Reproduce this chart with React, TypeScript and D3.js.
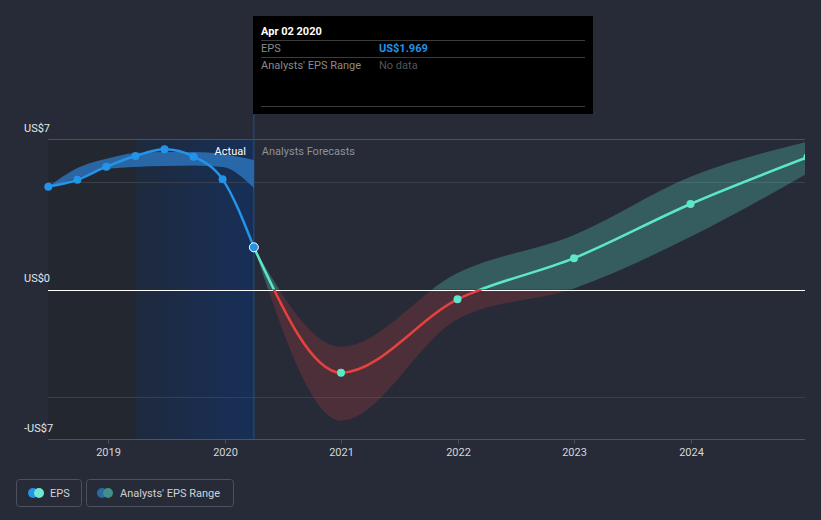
import React from "react";
import * as d3 from "d3";

const actualDates = ["2018-06-28", "2018-09-27", "2018-12-27", "2019-03-28", "2019-06-27", "2019-09-26", "2019-12-26", "2020-04-02"];
const actualEps = [4.8, 5.12, 5.73, 6.23, 6.54, 6.2, 5.14, 1.969];
const pastRangeLow = [4.8, 5.2, 5.62, 5.72, 5.76, 5.79, 5.72, 4.74];
const pastRangeHigh = [4.8, 5.67, 6.1, 6.37, 6.42, 6.42, 6.32, 6.04];

const forecastDates = ["2020-04-02", "2020-12-31", "2021-12-31", "2022-12-31", "2023-12-31", "2024-12-31"];
const forecastEps = [1.969, -3.88, -0.46, 1.46, 3.99, 6.17];
const forecastLow = [1.969, -6.12, -1.39, 0.05, 2.46, 5.42];
const forecastHigh = [1.969, -2.67, 0.77, 2.54, 5.26, 6.9];

const yearTicks = ["2019", "2020", "2021", "2022", "2023", "2024"];
const yTickLabels = [
  { v: 7, t: "US$7" },
  { v: 0, t: "US$0" },
  { v: -7, t: "-US$7" },
];
const gridValues = [5, -5];

const W = 821;
const H = 520;
const L = 48;
const R = 805;
const TOP = 139.5;
const BOT = 439.5;

const parse = d3.timeParse("%Y-%m-%d");

export default function App() {
  const x = d3
    .scaleTime()
    .domain([parse("2019-01-01")!, parse("2020-01-01")!])
    .range([108, 224.5]);
  const y = d3.scaleLinear().domain([-7, 7]).range([BOT, TOP]);

  const actual = actualDates.map((d, i) => ({ d: parse(d)!, v: actualEps[i], lo: pastRangeLow[i], hi: pastRangeHigh[i] }));
  const fc = forecastDates.map((d, i) => ({ d: parse(d)!, v: forecastEps[i], lo: forecastLow[i], hi: forecastHigh[i] }));

  const line = d3
    .line<any>()
    .x((p) => x(p.d))
    .y((p) => y(p.v))
    .curve(d3.curveMonotoneX);
  const area = d3
    .area<any>()
    .x((p) => x(p.d))
    .y0((p) => y(p.lo))
    .y1((p) => y(p.hi))
    .curve(d3.curveMonotoneX);

  const nowX = x(parse("2020-04-02")!);
  const yearAgoX = x(parse("2019-03-29")!);
  const y0 = y(0);

  const font = "Roboto, 'Noto Sans', sans-serif";

  return (
    <svg width={W} height={H} style={{ position: "absolute", left: 0, top: 0, fontFamily: font }}>
      <defs>
        <linearGradient id="pastGrad" x1="0" x2="1" y1="0" y2="0">
          <stop offset="0%" stopColor="#1e2a3d" />
          <stop offset="100%" stopColor="#172f58" />
        </linearGradient>
        <clipPath id="plotClip">
          <rect x={L} y={0} width={R - L} height={H} />
        </clipPath>
        <clipPath id="aboveZero">
          <rect x={L} y={0} width={R - L} height={y0} />
        </clipPath>
        <clipPath id="belowZero">
          <rect x={L} y={y0} width={R - L} height={H - y0} />
        </clipPath>
      </defs>
      <rect x={0} y={0} width={W} height={H} fill="#262b37" />

      {/* past shading */}
      <rect x={L} y={TOP} width={yearAgoX - L} height={BOT - TOP} fill="#23272f" />
      <rect x={yearAgoX} y={TOP} width={nowX - yearAgoX} height={BOT - TOP} fill="url(#pastGrad)" />

      {/* grid */}
      <line x1={L} x2={R} y1={TOP} y2={TOP} stroke="#4a505c" strokeWidth={1} />
      {gridValues.map((v) => (
        <line key={v} x1={L} x2={R} y1={Math.round(y(v)) + 0.5} y2={Math.round(y(v)) + 0.5} stroke="#3a404b" strokeWidth={1} />
      ))}
      <line x1={L} x2={R} y1={BOT} y2={BOT} stroke="#4d5360" strokeWidth={1} />
      {yearTicks.map((t) => {
        const xx = Math.round(x(parse(t + "-01-01")!)) + 0.5;
        return (
          <g key={t}>
            <line x1={xx} x2={xx} y1={BOT} y2={BOT + 4} stroke="#4d5360" />
            <text x={xx} y={456} textAnchor="middle" fontSize={11} fill="#d4d6da">
              {t}
            </text>
          </g>
        );
      })}
      {yTickLabels.map((t) => (
        <text key={t.t} x={24} y={y(t.v) - 8} fontSize={11} fill="#e4e6ea">
          {t.t}
        </text>
      ))}

      {/* now line */}
      <line x1={nowX} x2={nowX} y1={TOP - 25} y2={BOT} stroke="#23528e" strokeWidth={1} />

      {/* past range band */}
      <path d={area(actual) || ""} fill="#2b72b8" opacity={0.85} clipPath="url(#plotClip)" />

      {/* forecast band */}
      <g clipPath="url(#plotClip)">
        <path d={area(fc) || ""} fill="#5ee0c8" opacity={0.28} clipPath="url(#aboveZero)" />
        <path d={area(fc) || ""} fill="#e5413f" opacity={0.2} clipPath="url(#belowZero)" />
      </g>

      {/* zero line */}
      <line x1={L} x2={R} y1={Math.round(y0) + 0.5} y2={Math.round(y0) + 0.5} stroke="#ffffff" strokeWidth={1} />

      {/* forecast line */}
      <g clipPath="url(#plotClip)">
        <path d={line(fc) || ""} fill="none" stroke="#5ee6cb" strokeWidth={2.5} clipPath="url(#aboveZero)" />
        <path d={line(fc) || ""} fill="none" stroke="#e5423f" strokeWidth={2.5} clipPath="url(#belowZero)" />
        {fc.slice(1).map((p, i) => (
          <circle key={i} cx={x(p.d)} cy={y(p.v)} r={4} fill="#5ee6cb" />
        ))}
      </g>

      {/* actual line */}
      <path d={line(actual) || ""} fill="none" stroke="#2394e8" strokeWidth={2.5} />
      {actual.map((p, i) =>
        i === actual.length - 1 ? (
          <circle key={i} cx={x(p.d)} cy={y(p.v)} r={4.5} fill="#2394e8" stroke="#ffffff" strokeWidth={1} />
        ) : (
          <circle key={i} cx={x(p.d)} cy={y(p.v)} r={4} fill="#2394e8" />
        )
      )}

      {/* labels */}
      <text x={nowX - 8} y={155} textAnchor="end" fontSize={11} fill="#ffffff">
        Actual
      </text>
      <text x={nowX + 8} y={155} fontSize={11} fill="#8c919b">
        Analysts Forecasts
      </text>

      {/* tooltip */}
      <rect x={253} y={16} width={340} height={98} fill="#000000" />
      <text x={261} y={35} fontSize={11} fontWeight="bold" fill="#ffffff">
        Apr 02 2020
      </text>
      <line x1={261} x2={585} y1={40.5} y2={40.5} stroke="#3c3c3c" />
      <text x={261} y={52} fontSize={11} fill="#8a8a8a">
        EPS
      </text>
      <text x={379} y={52} fontSize={11} fontWeight="bold" fill="#2394e8">
        US$1.969
      </text>
      <line x1={261} x2={585} y1={57.5} y2={57.5} stroke="#3c3c3c" />
      <text x={261} y={69} fontSize={11} fill="#8a8a8a">
        Analysts' EPS Range
      </text>
      <text x={379} y={69} fontSize={11} fill="#555555">
        No data
      </text>
      <line x1={261} x2={585} y1={106.5} y2={106.5} stroke="#3c3c3c" />

      {/* legend */}
      <rect x={16.5} y={479.5} width={65} height={27} rx={3} fill="none" stroke="#4b5161" />
      <circle cx={33} cy={493} r={5} fill="#2394e8" />
      <circle cx={39} cy={493} r={5} fill="#6ee8d2" />
      <text x={50} y={497} fontSize={11} fill="#cfd2d8">
        EPS
      </text>
      <rect x={86.5} y={479.5} width={147} height={27} rx={3} fill="none" stroke="#4b5161" />
      <circle cx={102} cy={493} r={5} fill="#2a6aa3" />
      <circle cx={108} cy={493} r={5} fill="#3f8f8b" />
      <text x={120} y={497} fontSize={11} fill="#cfd2d8">
        Analysts' EPS Range
      </text>
    </svg>
  );
}
